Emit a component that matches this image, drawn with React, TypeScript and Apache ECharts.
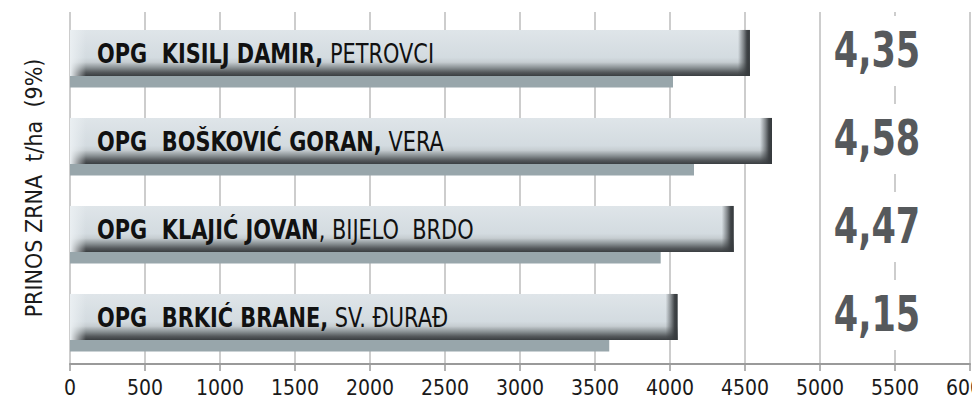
import React, { useEffect, useRef } from 'react';
import * as echarts from 'echarts';

// ---- data ----
const categories = ['KISILJ', 'BOŠKOVIĆ', 'KLAJIĆ', 'BRKIĆ'];
const farmNames = ['OPG  KISILJ DAMIR,', 'OPG  BOŠKOVIĆ GORAN,', 'OPG  KLAJIĆ JOVAN', 'OPG  BRKIĆ BRANE,'];
const places = [' PETROVCI', ' VERA', ', BIJELO  BRDO', ' SV. ĐURAĐ'];
const mainValues = [4533, 4680, 4425, 4051];
const secondaryValues = [4020, 4160, 3938, 3595];
const yieldValues = [4.35, 4.58, 4.47, 4.15];
const yAxisName = 'PRINOS ZRNA  t/ha  (9%)';
const xMin = 0;
const xMax = 6000;
const xInterval = 500;
const yieldLabelAt = 5380;

const NARROW = "'Liberation Sans Narrow', 'Arial Narrow', 'DejaVu Sans Condensed', 'Roboto Condensed', sans-serif";

const LG = (x2: number, y2: number, stops: [number, string][]) =>
  new echarts.graphic.LinearGradient(0, 0, x2, y2, stops.map(([offset, color]) => ({ offset, color })));

function barGeom(api: any, idx: number, v: number) {
  const p0 = api.coord([0, idx]);
  const p1 = api.coord([v, idx]);
  const band = api.size([0, 1])[1];
  const top = p0[1] - band * 0.296;
  const h = band * 0.523;
  return { x0: p0[0], x1: p1[0], top, h, band };
}

export default function App() {
  const ref = useRef<HTMLDivElement>(null);
  useEffect(() => {
    if (!ref.current) return;
    const chart = echarts.init(ref.current, null, { renderer: 'svg' });
    const option: any = {
      animation: false,
      backgroundColor: '#ffffff',
      grid: { left: 70, right: 2, top: 12, bottom: 36, containLabel: false, outerBoundsMode: 'none' },
      xAxis: {
        type: 'value',
        min: xMin,
        max: xMax,
        interval: xInterval,
        axisLine: { show: true, lineStyle: { color: '#9a9a9a', width: 2 } },
        axisTick: { show: true, length: 7, lineStyle: { color: '#9a9a9a', width: 1.5 } },
        splitLine: { show: true, lineStyle: { color: '#bdbdbd', width: 1.5 } },
        axisLabel: {
          color: '#1a1a1a',
          fontSize: 21,
          fontFamily: NARROW,
          margin: 13,
          showMaxLabel: true,
          formatter: (v: number) => String(v),
        },
      },
      yAxis: {
        type: 'category',
        data: categories,
        inverse: true,
        axisLine: { show: false },
        axisTick: { show: false },
        axisLabel: { show: false },
        splitLine: { show: false },
        name: yAxisName,
        nameLocation: 'middle',
        nameRotate: 90,
        nameGap: 25,
        nameTextStyle: { color: '#1a1a1a', fontSize: 23, fontFamily: NARROW },
      },
      series: [
        {
          type: 'custom',
          name: 'secondary',
          data: secondaryValues.map((v, i) => [v, i]),
          encode: { x: 0, y: 1 },
          renderItem: (params: any, api: any) => {
            const idx = api.value(1);
            const g = barGeom(api, idx, api.value(0));
            return {
              type: 'rect',
              shape: { x: g.x0, y: g.top + g.h, width: g.x1 - g.x0, height: g.band * 0.13 },
              style: { fill: '#98a6ab' },
            };
          },
        },
        {
          type: 'custom',
          name: 'main',
          data: mainValues.map((v, i) => [v, i]),
          encode: { x: 0, y: 1 },
          renderItem: (params: any, api: any) => {
            const idx = api.value(1);
            const g = barGeom(api, idx, api.value(0));
            const w = g.x1 - g.x0;
            return {
              type: 'group',
              children: [
                {
                  type: 'rect',
                  shape: { x: g.x0, y: g.top, width: w, height: g.h },
                  style: {
                    fill: LG(0, 1, [
                      [0, '#dfe5e9'],
                      [0.6, '#d3dbe0'],
                      [0.7, '#c6cdd1'],
                      [0.82, '#8a9194'],
                      [0.92, '#55595c'],
                      [1, '#3a3e41'],
                    ]),
                  },
                },
                {
                  type: 'rect',
                  shape: { x: g.x0, y: g.top, width: 16, height: g.h },
                  style: {
                    fill: LG(1, 0, [
                      [0, 'rgba(234,239,242,1)'],
                      [1, 'rgba(234,239,242,0)'],
                    ]),
                  },
                },
                {
                  type: 'rect',
                  shape: { x: g.x1 - 12, y: g.top, width: 12, height: g.h },
                  style: {
                    fill: LG(1, 0, [
                      [0, 'rgba(58,62,65,0)'],
                      [0.45, 'rgba(58,62,65,0.55)'],
                      [0.75, 'rgba(55,59,62,0.95)'],
                      [1, '#35393c'],
                    ]),
                  },
                },
                {
                  type: 'text',
                  x: g.x0 + 27,
                  y: g.top + g.h * 0.52,
                  scaleX: 0.86,
                  style: {
                    text: `{b|${farmNames[idx]}}{r|${places[idx]}}`,
                    verticalAlign: 'middle',
                    align: 'left',
                    rich: {
                      b: { fontFamily: NARROW, fontWeight: 'bold', fontSize: 27, fill: '#111111', color: '#111111' },
                      r: { fontFamily: NARROW, fontWeight: 'normal', fontSize: 27, fill: '#111111', color: '#111111' },
                    },
                  },
                },
              ],
            };
          },
        },
        {
          type: 'custom',
          name: 'yield',
          data: yieldValues.map((v, i) => [yieldLabelAt, i, v]),
          encode: { x: 0, y: 1 },
          renderItem: (params: any, api: any) => {
            const idx = api.value(1);
            const g = barGeom(api, idx, api.value(0));
            const cy = g.top + g.h / 2;
            const txt = yieldValues[idx].toFixed(2).replace('.', ',');
            return {
              type: 'group',
              children: [
                {
                  type: 'rect',
                  shape: { x: g.x1 - 40, y: cy - 37, width: 85, height: 70 },
                  style: { fill: '#ffffff' },
                },
                {
                  type: 'text',
                  x: g.x1,
                  y: cy - 3,
                  scaleX: 0.78,
                  style: {
                    text: txt,
                    align: 'center',
                    verticalAlign: 'middle',
                    fontFamily: NARROW,
                    fontWeight: 'bold',
                    fontSize: 50,
                    fill: '#56595c',
                  },
                },
              ],
            };
          },
        },
      ],
    };
    chart.setOption(option);
    return () => chart.dispose();
  }, []);
  return <div ref={ref} style={{ position: 'fixed', left: 0, top: 0, width: 972, height: 400 }} />;
}
